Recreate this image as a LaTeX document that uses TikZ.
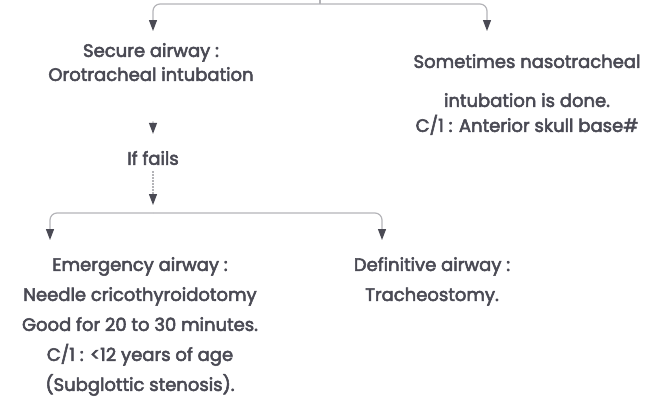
\documentclass[tikz,border=0pt]{standalone}
\usepackage{fontspec}
\setmainfont{Poppins}[FakeBold=3]
\usetikzlibrary{arrows.meta}
\definecolor{ink}{HTML}{4A4A54}
\definecolor{wire}{HTML}{B4B4B8}
\tikzset{
  note/.style={align=center, text=ink, inner sep=0pt,
    font=\fontsize{18bp}{30bp}\selectfont},
  link/.style={draw=wire, line width=1.2bp, rounded corners=7bp},
  flow/.style={link, -{Triangle[length=11bp, width=8bp, color=ink]}},
}
\begin{document}
\begin{tikzpicture}[x=1bp, y=-1bp]
  \useasboundingbox (0,0) rectangle (650,418);

  % text blocks
  \node[note, anchor=north] (secure) at (151,43)
    {Secure airway :\\[-6bp]Orotracheal intubation};
  \node[note, anchor=north] (naso) at (527,54)
    {Sometimes nasotracheal\\[9bp]intubation is done.\\[-5bp]C/1 : Anterior skull base\#};
  \node[note] (fails) at (153,158) {If fails};
  \node[note, anchor=north] (emerg) at (140,257)
    {Emergency airway :\\Needle cricothyroidotomy\\Good for 20 to 30 minutes.\\C/1 : <12 years of age\\(Subglottic stenosis).};
  \node[note, anchor=north] (defin) at (432,257)
    {Definitive airway :\\Tracheostomy.};

  % branching points
  \coordinate (inflow) at (320,-20);
  \coordinate (split1) at (320,4);
  \coordinate (split2) at (153,213);

  % upper branch
  \draw[link] (inflow) -- (split1);
  \draw[flow] (split1) -| ([xshift=2bp, yshift=12bp]secure.north);
  \draw[flow] (split1) -| ([xshift=-40bp, yshift=23bp]naso.north);

  % failure path
  \draw[flow, shorten <=40bp] ([xshift=2bp]secure.south) -- ([yshift=17bp]fails.north);
  \draw[flow, dash pattern=on 2bp off 1bp] ([yshift=-6bp]fails.south) -- ([yshift=8bp]split2);

  % lower branch
  \draw[flow] (split2) -| ([xshift=-90bp, yshift=17bp]emerg.north);
  \draw[flow] (split2) -| ([xshift=-50bp, yshift=17bp]defin.north);
\end{tikzpicture}
\end{document}
